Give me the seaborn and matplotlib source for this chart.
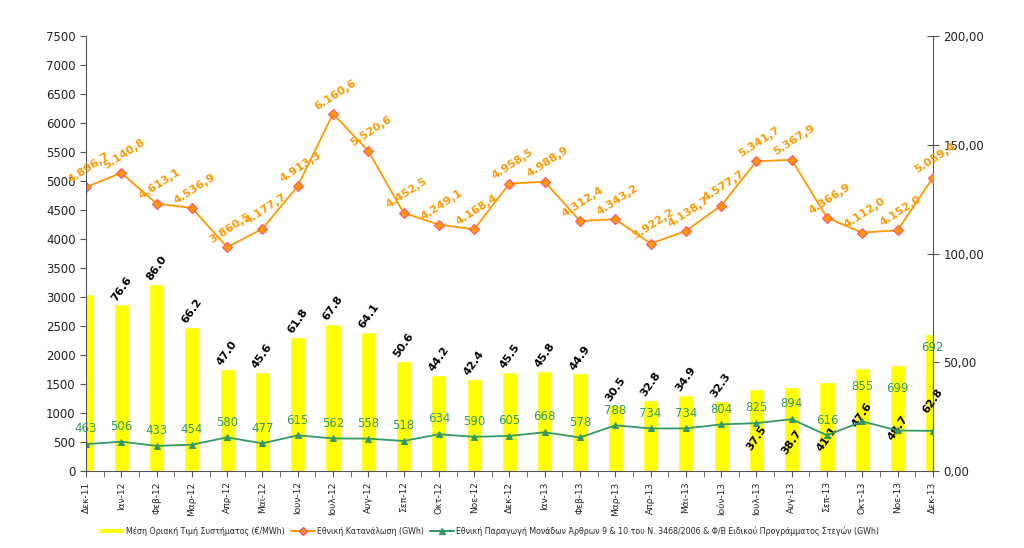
import matplotlib
matplotlib.use("Agg")
from matplotlib import pyplot as plt
from matplotlib.lines import Line2D
from matplotlib.patches import Patch
from matplotlib.ticker import FuncFormatter, MultipleLocator
import seaborn as sns

# --- data ---
months = ["Δεκ-11", "Ιαν-12", "Φεβ-12", "Μαρ-12", "Απρ-12", "Μαϊ-12", "Ιουν-12", "Ιουλ-12",
          "Αυγ-12", "Σεπ-12", "Οκτ-12", "Νοε-12", "Δεκ-12", "Ιαν-13", "Φεβ-13", "Μαρ-13",
          "Απρ-13", "Μάι-13", "Ιούν-13", "Ιουλ-13", "Αυγ-13", "Σεπ-13", "Οκτ-13", "Νοε-13", "Δεκ-13"]

price = [81.3, 76.6, 86.0, 66.2, 47.0, 45.6, 61.8, 67.8, 64.1, 50.6, 44.2, 42.4, 45.5,
         45.8, 44.9, 30.5, 32.8, 34.9, 32.3, 37.5, 38.7, 41.1, 47.6, 48.7, 62.8]

consumption = [4896.7, 5140.8, 4613.1, 4536.9, 3860.5, 4177.7, 4913.3, 6160.6, 5520.6,
               4452.5, 4249.1, 4168.4, 4958.5, 4988.9, 4312.4, 4343.2, 3922.2, 4138.7,
               4577.7, 5341.7, 5367.9, 4366.9, 4112.0, 4152.0, 5059.4]

production = [463, 506, 433, 454, 580, 477, 615, 562, 558, 518, 634, 590, 605, 668, 578,
              788, 734, 734, 804, 825, 894, 616, 855, 699, 692]

legend_labels = ["Μέση Οριακή Τιμή Συστήματος (€/MWh)",
                 "Εθνική Κατανάλωση (GWh)",
                 "Εθνική Παραγωγή Μονάδων Άρθρων 9 & 10 του Ν. 3468/2006 & Φ/Β Ειδικού Προγράμματος Στεγών (GWh)"]

# label offsets in points (Excel put a few of them in odd places)
bar_lbl_off = [None] + [11.5] * 18 + [-35, -40, -41, -34, -45, -48]
green_lbl_off = [11] * 22 + [25, 30, 60]

YELLOW = "#FFFF00"
ORANGE = "#FF9900"
PINK = "#FF4F7B"
GREEN = "#339966"
AXC = "#555555"


def gr_num(v):
    s = f"{v:,.1f}"
    return s.replace(",", "X").replace(".", ",").replace("X", ".")


sns.set_style("white")
plt.rcParams['font.family'] = ['DejaVu Sans']

fig = plt.figure(figsize=(10.24, 5.48), dpi=100)
ax = fig.add_axes([0.084, 0.1405, 0.827, 0.7935])

sns.lineplot(x=months, y=consumption, ax=ax, color=ORANGE, lw=1.3, marker="D", markersize=5.5,
             markerfacecolor=ORANGE, markeredgecolor=PINK, markeredgewidth=0.8, sort=False)
sns.lineplot(x=months, y=production, ax=ax, color=GREEN, lw=1.3, marker="^", markersize=5,
             markerfacecolor=GREEN, markeredgecolor=GREEN, sort=False)

ax2 = ax.twinx()
sns.barplot(x=months, y=price, ax=ax2, color=YELLOW, saturation=1, width=0.43)
ax.set_zorder(ax2.get_zorder() + 1)
ax.patch.set_visible(False)

ax.set_xlim(0, len(months) - 1)
ax.set_ylim(0, 7500)
ax2.set_ylim(0, 200)
ax.yaxis.set_major_locator(MultipleLocator(500))
ax2.yaxis.set_major_locator(MultipleLocator(50))
ax2.yaxis.set_major_formatter(FuncFormatter(lambda v, p: f"{v:.2f}".replace(".", ",")))

ax.set_xticks(range(len(months)))
ax.set_xticklabels(months, rotation=90, fontsize=6.5, color="#222222")
ax.set_xticks([i + 0.5 for i in range(len(months) - 1)], minor=True)
ax.set_xlabel("")
ax.set_ylabel("")
ax2.set_ylabel("")
ax.tick_params(axis="y", labelsize=8.5, labelcolor="#222222", direction="out", length=4,
               color=AXC, left=True)
ax.tick_params(axis="x", which="both", direction="out", length=4, color=AXC, bottom=True)
ax2.tick_params(axis="y", labelsize=8.5, labelcolor="#222222", direction="inout", length=8,
                color=AXC, right=True)

for a in (ax, ax2):
    a.spines["top"].set_visible(False)
ax.spines["right"].set_visible(False)
ax2.spines["left"].set_visible(False)
ax2.spines["bottom"].set_visible(False)
ax.spines["left"].set_color(AXC)
ax.spines["bottom"].set_color(AXC)
ax2.spines["right"].set_color(AXC)

# data labels
for i, v in enumerate(consumption):
    ax.annotate(gr_num(v), (i, v), xytext=(2, 14), textcoords="offset points",
                ha="center", va="center", rotation=33, fontsize=8, fontweight="bold",
                color=ORANGE, annotation_clip=False)
for i, v in enumerate(production):
    ax.annotate(str(v), (i, v), xytext=(0, green_lbl_off[i]), textcoords="offset points",
                ha="center", va="center", fontsize=8.5, color=GREEN, annotation_clip=False)
for i, v in enumerate(price):
    if bar_lbl_off[i] is None:
        continue
    ax2.annotate(f"{v:.1f}", (i, v), xytext=(0, bar_lbl_off[i]), textcoords="offset points",
                 ha="center", va="center", rotation=55, fontsize=8, fontweight="bold",
                 color="black", annotation_clip=False, zorder=5)

handles = [Patch(facecolor=YELLOW, edgecolor="none"),
           Line2D([0], [0], color=ORANGE, marker="D", markersize=4, markerfacecolor=ORANGE,
                  markeredgecolor=PINK),
           Line2D([0], [0], color=GREEN, marker="^", markersize=4, markerfacecolor=GREEN)]
fig.legend(handles, legend_labels, loc="center", bbox_to_anchor=(0.478, 0.031), ncol=3,
           fontsize=5.7, frameon=False, handlelength=3, handleheight=0.5, columnspacing=0.8,
           handletextpad=0.3)

fig.savefig("out.png", dpi=100)
